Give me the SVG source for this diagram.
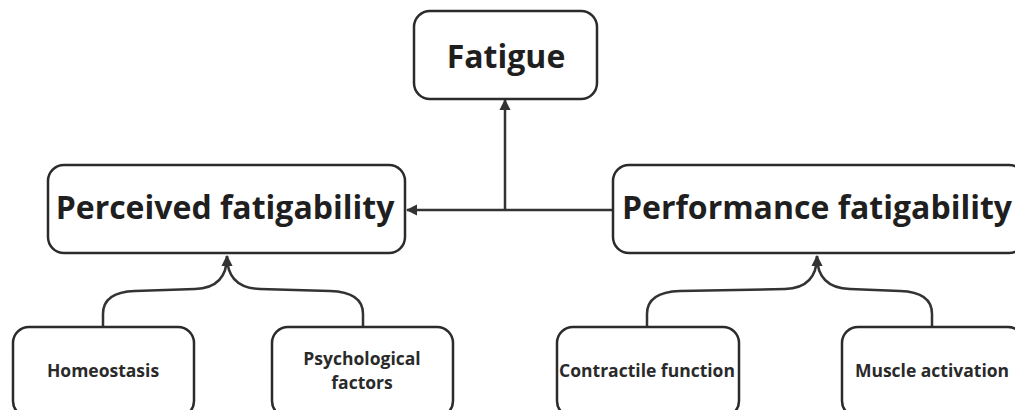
<svg xmlns="http://www.w3.org/2000/svg" width="1015" height="410" viewBox="0 0 1015 410">
<style>
.box{fill:#fff;stroke:#2b2b2b;stroke-width:2.5}
.conn{fill:none;stroke:#333;stroke-width:2.5}
text{font-family:"Open Sans","Noto Sans","Liberation Sans",sans-serif;font-weight:700;fill:#1f1f1f;text-anchor:middle}
.big{font-size:32px}
.small{font-size:17.5px;fill:#2a2a2a}
</style>
<defs>
<marker id="arr" viewBox="0 0 10 10" refX="9" refY="5" markerWidth="4.5" markerHeight="4.5" orient="auto" markerUnits="strokeWidth">
<path d="M0,0 L10,5 L0,10 z" fill="#333"/>
</marker>
</defs>
<rect width="1015" height="410" fill="#fff"/>
<g id="connectors">
<path class="conn" d="M612,210 H407" marker-end="url(#arr)"/>
<path class="conn" d="M505,210 V100" marker-end="url(#arr)"/>
<path class="conn" d="M103,327 V314 Q103,292 135,291 L195,289 Q227,288 227,256" marker-end="url(#arr)"/>
<path class="conn" d="M363,327 V314 Q363,292 330,291 L260,289 Q227,288 227,256"/>
<path class="conn" d="M647,327 V314 Q647,292 680,291 L785,289 Q817,288 817,256" marker-end="url(#arr)"/>
<path class="conn" d="M932,327 V314 Q932,292 900,291 L850,289 Q817,288 817,256"/>
</g>
<g id="fatigue">
<rect class="box" x="414" y="11" width="183" height="88" rx="16"/>
<text class="big" x="506" y="68">Fatigue</text>
</g>
<g id="perceived">
<rect class="box" x="48" y="165" width="357" height="88" rx="16"/>
<text class="big" x="225" y="219">Perceived fatigability</text>
</g>
<g id="performance">
<rect class="box" x="613" y="165" width="412" height="88" rx="16"/>
<text class="big" x="817" y="219">Performance fatigability</text>
</g>
<g id="homeostasis">
<rect class="box" x="13" y="327" width="181" height="90" rx="16"/>
<text class="small" x="103" y="377">Homeostasis</text>
</g>
<g id="psychological">
<rect class="box" x="272" y="327" width="181" height="90" rx="16"/>
<text class="small" x="362" y="365">Psychological</text>
<text class="small" x="362" y="389">factors</text>
</g>
<g id="contractile">
<rect class="box" x="557" y="327" width="182" height="90" rx="16"/>
<text class="small" x="647" y="377">Contractile function</text>
</g>
<g id="muscle">
<rect class="box" x="842" y="327" width="182" height="90" rx="16"/>
<text class="small" x="932" y="377">Muscle activation</text>
</g>
</svg>
